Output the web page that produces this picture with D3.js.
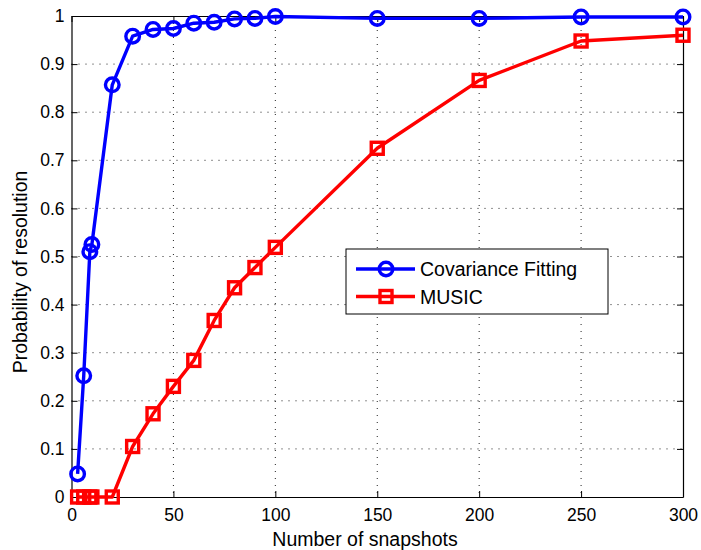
<!DOCTYPE html>
<html>
<head>
<meta charset="utf-8">
<script src="https://cdn.jsdelivr.net/npm/d3@7"></script>
<style>
  body { margin: 0; background: #fff; }
  text { font-family: "Liberation Sans", Arial, sans-serif; }
</style>
</head>
<body>
<div class="canvas"></div>
<script>
// data
const snapshots = [3, 6, 9, 10, 20, 30, 40, 50, 60, 70, 80, 90, 100, 150, 200, 250, 300];
const covFitting = [0.048, 0.252, 0.51, 0.525, 0.857, 0.958, 0.972, 0.974, 0.985, 0.987, 0.994, 0.995, 0.999, 0.995, 0.995, 0.998, 0.998];
const music = [0, 0, 0, 0, 0, 0.105, 0.173, 0.23, 0.284, 0.367, 0.435, 0.477, 0.519, 0.725, 0.866, 0.948, 0.96];
const xTicks = [0, 50, 100, 150, 200, 250, 300];
const yTicks = [0, 0.1, 0.2, 0.3, 0.4, 0.5, 0.6, 0.7, 0.8, 0.9, 1];
const seriesNames = ['Covariance Fitting', 'MUSIC'];

const width = 701, height = 550;
const margin = {top: 16, right: 18, bottom: 53, left: 71.5};
const graphWidth = width - margin.left - margin.right;
const graphHeight = height - margin.top - margin.bottom;

const svg = d3.select('.canvas')
    .append('svg')
        .attr('width', width)
        .attr('height', height);

svg.append('rect').attr('width', width).attr('height', height).attr('fill', '#fff');

const graph = svg.append('g')
    .attr('transform', `translate(${margin.left}, ${margin.top})`);

const x = d3.scaleLinear().domain([0, 300]).range([0, graphWidth]);
const y = d3.scaleLinear().domain([0, 1]).range([graphHeight, 0]);

// dotted grid
graph.append('g').selectAll('line')
    .data(xTicks.slice(1, -1))
    .enter().append('line')
        .attr('x1', d => x(d)).attr('x2', d => x(d))
        .attr('y1', 0).attr('y2', graphHeight)
        .attr('stroke', '#222').attr('stroke-width', 1)
        .attr('stroke-dasharray', '1,6');
graph.append('g').selectAll('line')
    .data(yTicks.slice(1, -1))
    .enter().append('line')
        .attr('y1', d => y(d)).attr('y2', d => y(d))
        .attr('x1', 0).attr('x2', graphWidth)
        .attr('stroke', '#222').attr('stroke-width', 1)
        .attr('stroke-dasharray', '1,6');

// axes, ticks pointing inward on all four sides
const xAxis = d3.axisBottom(x).tickValues(xTicks).tickFormat(d3.format('d'))
    .tickSize(-6).tickSizeOuter(0).tickPadding(12);
const yAxis = d3.axisLeft(y).tickValues(yTicks).tickFormat(d => d === 0 || d === 1 ? d : d3.format('.1f')(d))
    .tickSize(-6).tickSizeOuter(0).tickPadding(7);
const xTop = d3.axisTop(x).tickValues(xTicks).tickFormat('').tickSize(-6).tickSizeOuter(0);
const yRight = d3.axisRight(y).tickValues(yTicks).tickFormat('').tickSize(-6).tickSizeOuter(0);

const xAxisGroup = graph.append('g').attr('transform', `translate(0,${graphHeight})`).call(xAxis);
const yAxisGroup = graph.append('g').call(yAxis);
graph.append('g').call(xTop);
graph.append('g').attr('transform', `translate(${graphWidth},0)`).call(yRight);

graph.selectAll('.domain').attr('stroke', '#000').attr('stroke-width', 1.2);
graph.selectAll('.tick line').attr('stroke', '#000');
graph.selectAll('.tick text')
    .attr('font-family', '"Liberation Sans", Arial, sans-serif')
    .attr('font-size', 17.5)
    .attr('fill', '#000');

// lines and markers
const line = d3.line().x(d => x(d[0])).y(d => y(d[1]));
const blueData = snapshots.map((s, i) => [s, covFitting[i]]);
const redData = snapshots.map((s, i) => [s, music[i]]);

graph.append('path')
    .datum(redData)
    .attr('d', line)
    .attr('fill', 'none').attr('stroke', '#ff0000').attr('stroke-width', 3.4)
    .attr('stroke-linejoin', 'round');
graph.append('g').selectAll('rect')
    .data(redData)
    .enter().append('rect')
        .attr('x', d => x(d[0]) - 6).attr('y', d => y(d[1]) - 6)
        .attr('width', 12).attr('height', 12)
        .attr('fill', 'none').attr('stroke', '#ff0000').attr('stroke-width', 3.4);

graph.append('path')
    .datum(blueData)
    .attr('d', line)
    .attr('fill', 'none').attr('stroke', '#0000ff').attr('stroke-width', 3.4)
    .attr('stroke-linejoin', 'round');
graph.append('g').selectAll('circle')
    .data(blueData)
    .enter().append('circle')
        .attr('cx', d => x(d[0])).attr('cy', d => y(d[1]))
        .attr('r', 6.8)
        .attr('fill', 'none').attr('stroke', '#0000ff').attr('stroke-width', 3.4);

// axis titles
svg.append('text')
    .attr('x', 365).attr('y', 546)
    .attr('text-anchor', 'middle')
    .attr('font-size', 19.5)
    .text('Number of snapshots');
svg.append('text')
    .attr('transform', 'translate(27,272) rotate(-90)')
    .attr('text-anchor', 'middle')
    .attr('font-size', 19.5)
    .text('Probability of resolution');

// legend
const legend = svg.append('g').attr('transform', 'translate(346,249)');
legend.append('rect')
    .attr('width', 262).attr('height', 65)
    .attr('fill', '#fff').attr('stroke', '#000').attr('stroke-width', 1);
const colors = ['#0000ff', '#ff0000'];
seriesNames.forEach((name, i) => {
    const ly = 20 + i * 27.5;
    legend.append('line')
        .attr('x1', 10).attr('x2', 69).attr('y1', ly).attr('y2', ly)
        .attr('stroke', colors[i]).attr('stroke-width', 3.4);
    if (i === 0) {
        legend.append('circle').attr('cx', 40).attr('cy', ly).attr('r', 6.8)
            .attr('fill', 'none').attr('stroke', colors[i]).attr('stroke-width', 3.4);
    } else {
        legend.append('rect').attr('x', 34).attr('y', ly - 6).attr('width', 12).attr('height', 12)
            .attr('fill', 'none').attr('stroke', colors[i]).attr('stroke-width', 3.4);
    }
    legend.append('text')
        .attr('x', 74).attr('y', ly + 7)
        .attr('font-size', 19.5)
        .text(name);
});
</script>
</body>
</html>
